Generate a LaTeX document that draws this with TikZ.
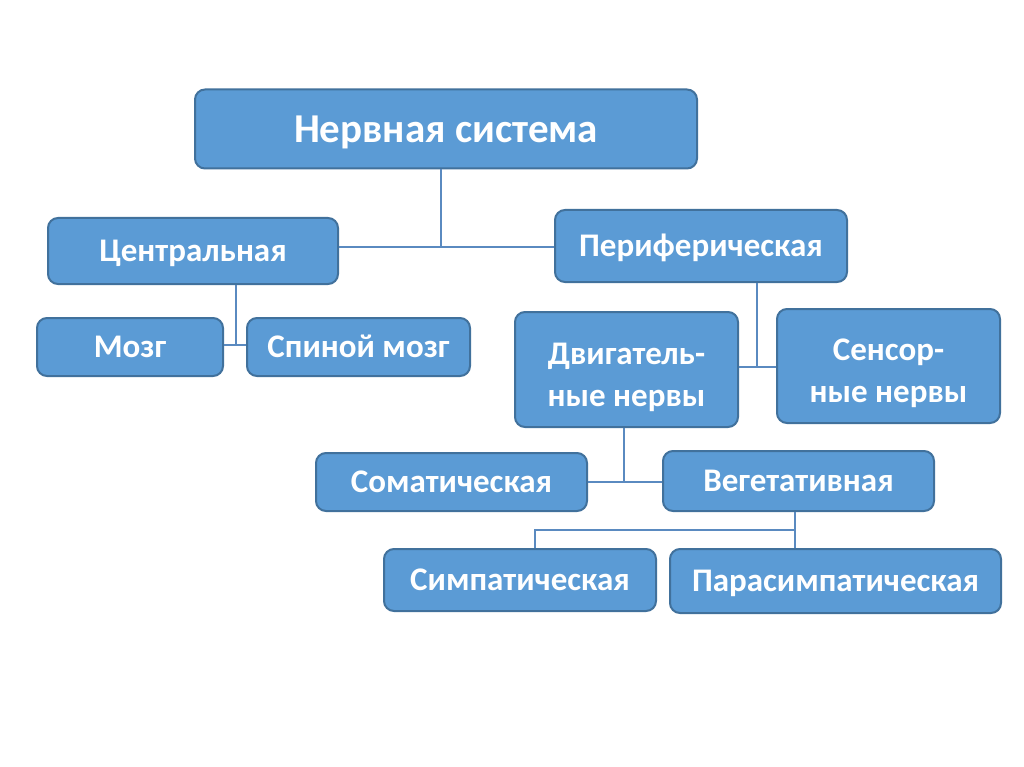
\documentclass[tikz,border=0pt]{standalone}
\usepackage{fontspec}
\setmainfont{Carlito}
\definecolor{boxfill}{HTML}{5B9BD5}
\definecolor{boxline}{HTML}{41719C}
\definecolor{conn}{HTML}{5A8AC0}
\begin{document}
\begin{tikzpicture}[x=1pt,y=-1pt,
  boxbase/.style={draw=boxline, line width=2pt, fill=boxfill, rounded corners=10pt,
    text=white, font=\bfseries\fontsize{33}{42}\selectfont, inner sep=0pt},
  box/.style={boxbase, text height=21.3pt, text depth=0pt},
  twoline/.style={boxbase, text height=31.6pt, text depth=42pt},
  link/.style={draw=conn, line width=2.5pt}]
\useasboundingbox (0,0) rectangle (1024,767);
\fill[white] (0,0) rectangle (1024,767);
\node[box, minimum width=502pt, minimum height=79pt, font=\bfseries\fontsize{41}{48}\selectfont, text height=26.4pt] (ns) at (446,129) {Нервная система};
\node[box, minimum width=290pt, minimum height=66pt] (cen) at (193,251) {Центральная};
\node[box, minimum width=292pt, minimum height=72pt] (per) at (701,246) {Периферическая};
\node[box, minimum width=186pt, minimum height=58pt] (brain) at (130,347) {Мозг};
\node[box, minimum width=223pt, minimum height=58pt] (spine) at (358.5,347) {Спиной мозг};
\node[twoline, minimum width=223pt, minimum height=115pt] (motor) at (626.5,369.5) {\begin{tabular}[t]{@{}c@{}}Двигатель-\\ные нервы\end{tabular}};
\node[twoline, minimum width=223pt, minimum height=114pt] (sens) at (888.5,366) {\begin{tabular}[t]{@{}c@{}}Сенсор-\\ные нервы\end{tabular}};
\node[box, minimum width=271pt, minimum height=58pt] (som) at (451.5,482) {Соматическая};
\node[box, minimum width=271pt, minimum height=60pt] (veg) at (798.5,481) {Вегетативная};
\node[box, minimum width=272pt, minimum height=62pt] (sym) at (520,580) {Симпатическая};
\node[box, minimum width=331pt, minimum height=64pt] (para) at (835.5,581) {Парасимпатическая};
\coordinate (j1) at (441,247);
\coordinate (j2) at (236,345);
\coordinate (j3) at (757,367);
\coordinate (j4) at (624,482);
\coordinate (j5) at (795,530);
\coordinate (j6) at (535,530);
\draw[link] (ns.south -| j1) -- (j1);
\draw[link] (cen.east |- j1) -- (per.west |- j1);
\draw[link] (cen.south -| j2) -- (j2);
\draw[link] (brain.east |- j2) -- (spine.west |- j2);
\draw[link] (per.south -| j3) -- (j3);
\draw[link] (motor.east |- j3) -- (sens.west |- j3);
\draw[link] (motor.south -| j4) -- (j4);
\draw[link] (som.east |- j4) -- (veg.west |- j4);
\draw[link] (veg.south -| j5) -- (j5) -- (j6) -- (sym.north -| j6);
\draw[link] (j5) -- (para.north -| j5);
\end{tikzpicture}
\end{document}
